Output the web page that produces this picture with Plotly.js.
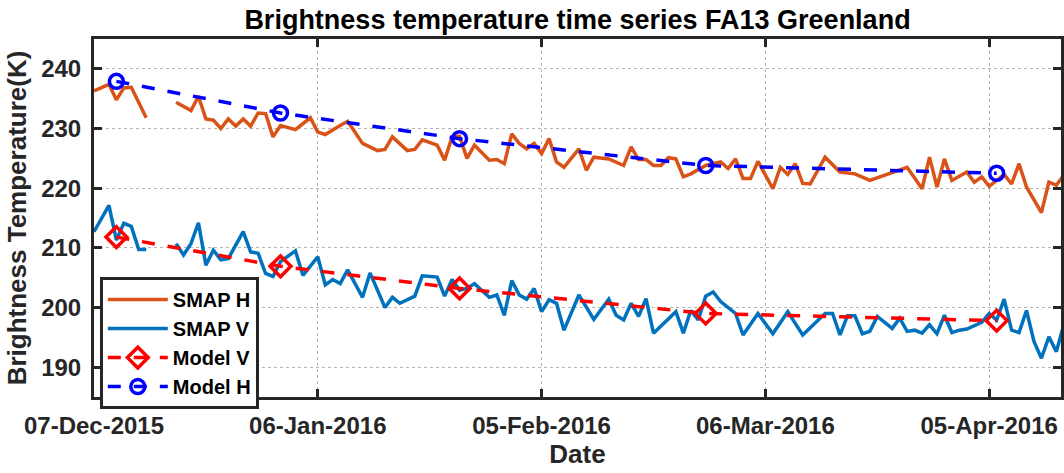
<!DOCTYPE html>
<html>
<head>
<meta charset="utf-8">
<script src="https://cdn.plot.ly/plotly-3.0.1.min.js"></script>
<style>
  html, body { margin: 0; padding: 0; background: #fff; }
  #chart { width: 1064px; height: 473px; }
</style>
</head>
<body>
<div id="chart"></div>
<script>
// Dates are given as days since 07-Dec-2015
const startDate = '2015-12-07';

const smapHDay = [0, 2, 3, 4, 5, 7, 9, 11, 13, 14, 15, 16, 17, 18, 19, 20, 21, 22, 23, 24, 25, 27, 29, 30, 31, 33, 34,
  36, 38, 39, 40, 42, 43, 44, 46, 47, 48, 49, 50, 51, 53, 54, 55, 56, 57, 58, 59, 60, 61, 62, 63, 65, 66, 67,
  69, 71, 72, 73, 74, 75, 76, 77, 78, 79, 80, 82, 84, 85, 86, 87, 88, 89, 91, 92, 93, 94, 95, 96, 98, 100, 102,
  104, 107, 109, 111, 112, 113, 114, 115, 117, 118, 119, 120, 122, 123, 124, 125, 127, 128, 129, 130];
const smapH = [236.3, 237.4, 234.8, 236.8, 236.9, 231.8, null, 234.4, 233.0, 235.4, 231.6, 231.4, 230.0, 231.6, 230.4,
  231.6, 230.4, 232.6, 232.5, 228.6, 230.5, 229.8, 231.8, 229.4, 229.0, 230.5, 231.2,
  227.5, 226.3, 226.5, 228.6, 226.3, 226.5, 228.1, 227.2, 224.7, 228.6, 228.7, 225.0, 227.2, 224.7, 224.8, 224.1,
  229.1, 227.5, 226.6, 227.5, 225.8, 228.3, 224.4, 223.5, 226.6, 223.0, 225.2,
  224.9, 223.8, 226.9, 224.8, 224.8, 223.8, 223.8, 225.1, 224.9, 221.9, 222.4, 223.8, 224.4, 223.3, 224.9, 221.6,
  221.6, 224.5, 219.9, 223.5, 222.3, 224.1, 220.8, 220.7, 225.2, 222.7, 222.4,
  221.3, 222.7, 223.5, 219.9, 225.2, 220.2, 224.9, 221.3, 222.7, 221.0, 221.9, 220.3, 222.3, 220.7, 224.1, 220.2,
  215.9, 221.0, 220.5, 222.2];

const smapVDay = [0, 2, 3, 4, 5, 6, 7, 9, 11, 12, 13, 14, 15, 16, 17, 18, 20, 21, 22, 23, 24, 25, 27, 28, 30, 31, 32, 33, 34,
  36, 37, 39, 40, 41, 43, 44, 46, 47, 48, 49, 50, 51, 53, 54, 55, 56, 57, 58, 59, 60, 61, 62, 63, 65, 67, 68, 69,
  70, 71, 72, 73, 74, 75, 78, 79, 80, 81, 82, 83, 84, 86, 87, 89, 91, 93, 95, 98, 99, 100, 101, 102, 103, 104,
  105, 107, 108, 109, 110, 111, 112, 113, 114, 115, 116, 117, 119, 120, 121, 122, 123, 124, 125, 126, 127, 128, 129, 130];
const smapV = [212.7, 217.1, 211.3, 214.1, 213.6, 209.7, 209.7, null, 210.7, 208.8, 210.7, 214.2, 207.1, 209.6, 208.0,
  208.2, 212.7, 209.3, 209.1, 205.7, 205.2, 207.7, 209.5, 205.4, 208.5, 203.8, 204.7, 204.0, 206.3,
  201.7, 205.8, 200.0, 201.7, 200.7, 201.9, 205.3, 205.1, 201.9, 204.7, 202.9, 203.2, 204.0, 201.7, 202.1, 198.7,
  204.5, 202.1, 201.4, 203.2, 199.3, 201.3, 200.7, 196.2, 202.1, 198.0, 199.6, 201.4,
  198.7, 197.9, 200.7, 198.5, 201.5, 195.7, 199.3, 195.7, 199.5, 197.9, 201.9, 202.6, 201.0, 199.0, 195.4, 199.0,
  195.6, 199.3, 195.4, 199.0, 199.0, 195.4, 198.6, 198.6, 195.6, 196.0,
  198.5, 196.5, 198.2, 196.0, 196.2, 195.7, 197.1, 195.6, 198.7, 195.8, 196.2, 196.4, 197.5, 199.0, 197.9, 201.4,
  196.2, 195.8, 199.5, 194.3, 191.5, 195.1, 192.6, 197.1];

const modelDay = [3, 25, 49, 82, 121];
const modelV = [211.8, 206.9, 203.2, 199.0, 197.8];
const modelH = [237.9, 232.6, 228.3, 223.8, 222.5];

const xTickDates = ['2015-12-07', '2016-01-06', '2016-02-05', '2016-03-06', '2016-04-05'];
const xTickLabels = ['07-Dec-2015', '06-Jan-2016', '05-Feb-2016', '06-Mar-2016', '05-Apr-2016'];
const yTicks = [190, 200, 210, 220, 230, 240];
const xRangeEnd = '2016-04-14 15:00';

function toDate(d) {
  const t = new Date(startDate + 'T00:00:00Z');
  t.setUTCDate(t.getUTCDate() + d);
  return t.toISOString().slice(0, 10);
}

const font = 'Liberation Sans, Arial, Helvetica, sans-serif';
const ink = '#262626';

const traces = [
  { x: smapHDay.map(toDate), y: smapH, name: 'SMAP H', type: 'scatter', mode: 'lines',
    line: { color: '#D95319', width: 3.5 }, connectgaps: false },
  { x: smapVDay.map(toDate), y: smapV, name: 'SMAP V', type: 'scatter', mode: 'lines',
    line: { color: '#0072BD', width: 3.5 }, connectgaps: false },
  { x: modelDay.map(toDate), y: modelV, name: 'Model V', type: 'scatter', mode: 'lines+markers',
    line: { color: '#FF0000', width: 3.5, dash: '13px,13px' },
    marker: { symbol: 'diamond-open', size: 16, color: '#FF0000', line: { color: '#FF0000', width: 3.5 } } },
  { x: modelDay.map(toDate), y: modelH, name: 'Model H', type: 'scatter', mode: 'lines+markers',
    line: { color: '#0000FF', width: 3.5, dash: '13px,13px' },
    marker: { symbol: 'circle-open', size: 14, color: '#0000FF', line: { color: '#0000FF', width: 3.5 } } }
];

const axisCommon = {
  showline: true, linecolor: ink, linewidth: 3, mirror: 'ticks',
  ticks: 'inside', ticklen: 8, tickwidth: 3, tickcolor: ink,
  showgrid: true, gridcolor: '#b4b4b4', gridwidth: 1, griddash: 'dot',
  zeroline: false,
  tickfont: { family: font, size: 24, color: ink, weight: 'bold' }
};

const layout = {
  width: 1064, height: 473,
  margin: { l: 94, r: 3, t: 39, b: 76 },
  paper_bgcolor: '#fff', plot_bgcolor: '#fff',
  showlegend: true,
  title: { text: 'Brightness temperature time series FA13 Greenland',
    font: { family: font, size: 27, color: '#000', weight: 'bold' },
    x: 0.5, xref: 'paper', xanchor: 'center', y: 0.958, yref: 'container', yanchor: 'middle' },
  xaxis: Object.assign({}, axisCommon, {
    type: 'date', range: [startDate, xRangeEnd],
    tickmode: 'array', tickvals: xTickDates, ticktext: xTickLabels,
    ticklabelstandoff: 5,
    title: { text: 'Date', font: { family: font, size: 26, color: ink, weight: 'bold' }, standoff: 8 }
  }),
  yaxis: Object.assign({}, axisCommon, {
    range: [185, 245], tickmode: 'array', tickvals: yTicks, ticktext: yTicks.map(String),
    ticklabelstandoff: 5,
    title: { text: 'Brightness Temperature(K)', font: { family: font, size: 26, color: ink, weight: 'bold' }, standoff: 8 }
  }),
  legend: {
    x: 0.006, y: 0.335, xanchor: 'left', yanchor: 'top',
    bgcolor: '#fff', bordercolor: ink, borderwidth: 3,
    font: { family: font, size: 20, color: '#000', weight: 'bold' },
    itemwidth: 60, tracegroupgap: 0
  }
};

Plotly.newPlot('chart', traces, layout, { displayModeBar: false, staticPlot: true });
</script>
</body>
</html>
